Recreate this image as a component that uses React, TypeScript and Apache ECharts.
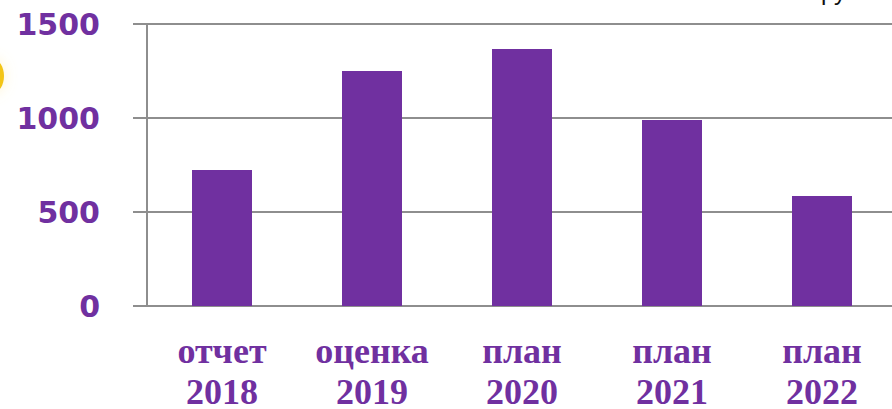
import React, { useEffect, useRef } from "react";
import * as echarts from "echarts";

const categories = ["отчет\n2018", "оценка\n2019", "план\n2020", "план\n2021", "план\n2022"];
const values = [723, 1250, 1367, 989, 585];
const yTicks = [0, 500, 1000, 1500];
const unitLabel = "руб.";

const PURPLE = "#7030a0";
const GRAY = "#8e8e8e";

export default function App() {
  const ref = useRef<HTMLDivElement>(null);
  useEffect(() => {
    if (!ref.current) return;
    const chart = echarts.init(ref.current, undefined, { renderer: "svg" });
    chart.setOption({
      animation: false,
      grid: {
        left: 147,
        top: 24,
        width: 750,
        bottom: 103,
        containLabel: false,
        outerBoundsMode: "none",
      },
      xAxis: {
        type: "category",
        data: categories,
        axisLine: { show: true, lineStyle: { color: GRAY, width: 2 } },
        axisTick: { show: false },
        axisLabel: {
          interval: 0,
          margin: 24,
          color: PURPLE,
          fontFamily: "Liberation Serif",
          fontWeight: "bold",
          fontSize: 36,
          lineHeight: 41,
        },
      },
      yAxis: {
        type: "value",
        min: yTicks[0],
        max: yTicks[yTicks.length - 1],
        interval: 500,
        axisLine: { show: true, lineStyle: { color: GRAY, width: 2 } },
        axisTick: { show: true, inside: false, length: 14, lineStyle: { color: GRAY, width: 2 } },
        splitLine: { show: true, lineStyle: { color: GRAY, width: 2 } },
        axisLabel: {
          margin: 47,
          color: PURPLE,
          fontFamily: "DejaVu Sans",
          fontWeight: "bold",
          fontSize: 30,
          padding: [6, 0, 0, 0],
          formatter: (v: number) => String(v),
        },
      },
      series: [
        {
          type: "bar",
          data: values,
          barWidth: 60,
          itemStyle: { color: PURPLE },
        },
      ],
      graphic: [
        {
          type: "ellipse",
          shape: { cx: -7, cy: 76, rx: 11, ry: 17 },
          style: { fill: "#f3c515", shadowBlur: 14, shadowColor: "rgba(250,225,120,0.35)" },
          silent: true,
        },
        {
          type: "text",
          x: 821,
          y: -9,
          style: {
            text: unitLabel,
            fill: "#111",
            fontFamily: "Liberation Sans",
            fontSize: 24,
            verticalAlign: "middle",
            align: "left",
          },
          silent: true,
        },
      ],
    });
    return () => chart.dispose();
  }, []);
  return <div ref={ref} style={{ width: 892, height: 409, position: "absolute", left: 0, top: 0 }} />;
}
